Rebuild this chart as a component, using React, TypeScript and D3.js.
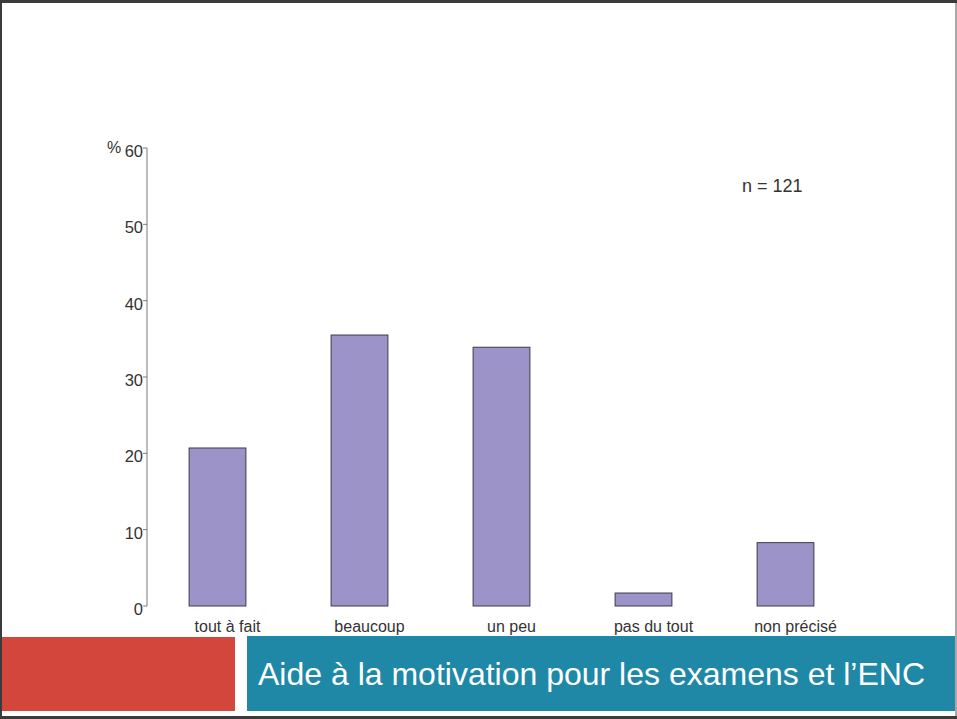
import React from "react";
import * as d3 from "d3";

const categories = ["tout à fait", "beaucoup", "un peu", "pas du tout", "non précisé"];
const values = [20.7, 35.5, 33.9, 1.7, 8.3];
const yTicks = [0, 10, 20, 30, 40, 50, 60];
const title = "Aide à la motivation pour les examens et l\u2019ENC";
const nLabel = "n = 121";

export default function App() {
  const W = 957, H = 719;
  const x = d3.scaleBand<string>().domain(categories).range([146.5, 856.5]).paddingInner(0.6).paddingOuter(0.3);
  const y = d3.scaleLinear().domain([0, 60]).range([606, 148]);
  const font = "'Liberation Sans', Arial, Helvetica, sans-serif";
  return (
    <svg width={W} height={H} style={{ position: "absolute", left: 0, top: 0 }} fontFamily={font}>
      <rect x={0} y={0} width={W} height={H} fill="#fff" />
      {/* frame */}
      <rect x={0} y={0} width={W} height={3} fill="#3b3b3b" />
      <rect x={0} y={0} width={2} height={H} fill="#3b3b3b" />
      <rect x={0} y={716} width={W} height={3} fill="#3b3b3b" />
      <rect x={955} y={3} width={2} height={713} fill="#a8a8a8" />
      {/* axis */}
      <line x1={147} x2={147} y1={y(60)} y2={y(0)} stroke="#7a7a7a" strokeWidth={1} />
      {yTicks.map((t) => (
        <g key={t}>
          <line x1={143} x2={147} y1={y(t)} y2={y(t)} stroke="#7a7a7a" strokeWidth={1} />
          <text x={143} y={y(t) + 9} textAnchor="end" fontSize={16.5} fill="#333">{t}</text>
        </g>
      ))}
      <text x={107} y={153} fontSize={16} fill="#333">%</text>
      {/* bars */}
      {categories.map((c, i) => (
        <rect key={c} x={x(c)!} y={y(values[i])} width={x.bandwidth()} height={y(0) - y(values[i])}
          fill="#9c94c9" stroke="#3a3a4a" strokeWidth={1} />
      ))}
      {categories.map((c) => (
        <text key={c} x={x(c)! + x.bandwidth() / 2 + 10} y={632} textAnchor="middle" fontSize={16} fill="#333">{c}</text>
      ))}
      <text x={742} y={192} fontSize={18} fill="#333">{nLabel}</text>
      {/* footer */}
      <rect x={2} y={637} width={233} height={74} fill="#d3463c" />
      <rect x={247} y={636} width={708} height={75} fill="#1f88a7" />
      <text x={258} y={685} fontSize={32} fill="#fff">{title}</text>
    </svg>
  );
}
